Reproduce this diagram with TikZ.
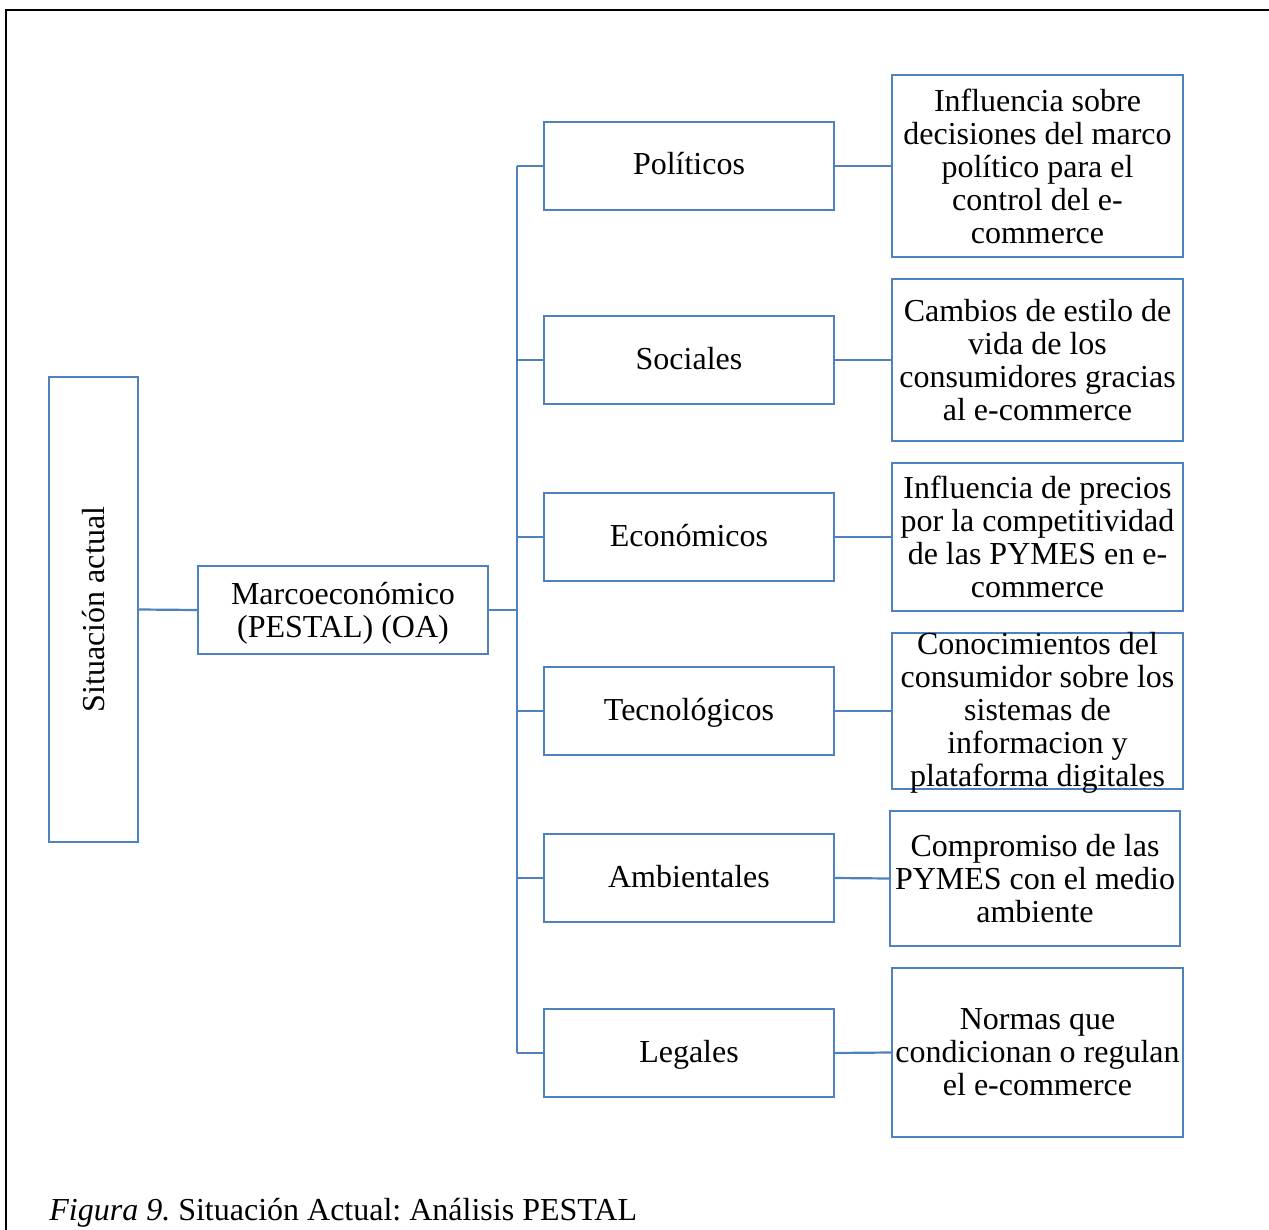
\documentclass[tikz,border=0pt]{standalone}
\usepackage{fontspec}
\setmainfont{Liberation Serif}
\usetikzlibrary{positioning}
\definecolor{pest}{HTML}{4F81BD}

\tikzset{
  caja/.style={draw=pest, line width=1.1pt, align=center, inner sep=0pt,
    font=\fontsize{16}{16.5}\selectfont},
  factor/.style={caja, minimum width=145pt, minimum height=44pt,
    text height=11.5pt, text depth=2.5pt},
  enlace/.style={draw=pest, line width=1.1pt},
}

\begin{document}
\begin{tikzpicture}[x=0.5pt,y=-0.5pt]
\useasboundingbox (0,0) rectangle (1269,1230);
\draw[line width=1.2pt] (6,1230) -- (6,10) -- (1269,10);

% left side
\node[caja, minimum width=44.5pt, minimum height=232.5pt] (sit) at (93.5,609.5) {\rotatebox{90}{Situación actual}};
\node[caja, minimum width=145pt, minimum height=44pt] (marco) at (343,610) {};
\node[font=\fontsize{16}{16.5}\selectfont, align=center, inner sep=0pt] (marcot) at (343,613) {Marcoeconómico\\(PESTAL) (OA)};

% factors
\node[factor] (pol) at (689,166) {Políticos};
\node[factor] (soc) at (689,360) {Sociales};
\node[factor] (eco) at (689,537) {Económicos};
\node[factor] (tec) at (689,711) {Tecnológicos};
\node[factor] (amb) at (689,878) {Ambientales};
\node[factor] (leg) at (689,1053) {Legales};

% descriptions
\node[caja, minimum width=145.5pt, minimum height=91pt] (polr) at (1037.5,166) {Influencia sobre\\decisiones del marco\\político para el\\control del e-\\commerce};
\node[caja, minimum width=145.5pt, minimum height=81pt] (socr) at (1037.5,360) {Cambios de estilo de\\vida de los\\consumidores gracias\\al e-commerce};
\node[caja, minimum width=145.5pt, minimum height=74pt] (ecor) at (1037.5,537) {Influencia de precios\\por la competitividad\\de las PYMES en e-\\commerce};
\node[caja, minimum width=145.5pt, minimum height=78pt] (tecr) at (1037.5,711) {};
\node[font=\fontsize{16}{16.5}\selectfont, align=center, inner sep=0pt] (tect) at (1037.5,713) {Conocimientos del\\consumidor sobre los\\sistemas de\\informacion y\\plataforma digitales};
\node[caja, minimum width=145pt, minimum height=67.5pt] (ambr) at (1035,878.5) {Compromiso de las\\PYMES con el medio\\ambiente};
\node[caja, minimum width=145.5pt, minimum height=84.5pt] (legr) at (1037.5,1052.5) {Normas que\\condicionan o regulan\\el e-commerce};

% connectors
\coordinate (tronco) at (517,610);
\draw[enlace] (sit.east) -- (marco.west);
\draw[enlace] (marco.east) -- (tronco);
\draw[enlace] (tronco |- pol.west) -- (tronco |- leg.west);
\draw[enlace] (tronco |- pol.west) -- (pol.west);
\draw[enlace] (tronco |- soc.west) -- (soc.west);
\draw[enlace] (tronco |- eco.west) -- (eco.west);
\draw[enlace] (tronco |- tec.west) -- (tec.west);
\draw[enlace] (tronco |- amb.west) -- (amb.west);
\draw[enlace] (tronco |- leg.west) -- (leg.west);
\draw[enlace] (pol.east) -- (polr.west);
\draw[enlace] (soc.east) -- (socr.west);
\draw[enlace] (eco.east) -- (ecor.west);
\draw[enlace] (tec.east) -- (tecr.west);
\draw[enlace] (amb.east) -- (ambr.west);
\draw[enlace] (leg.east) -- (legr.west);

\node[anchor=base west, inner sep=0pt, font=\fontsize{16}{16.5}\selectfont] (pie) at (49,1220) {\frenchspacing\textit{Figura 9.} Situación Actual: Análisis PESTAL};
\end{tikzpicture}
\end{document}
